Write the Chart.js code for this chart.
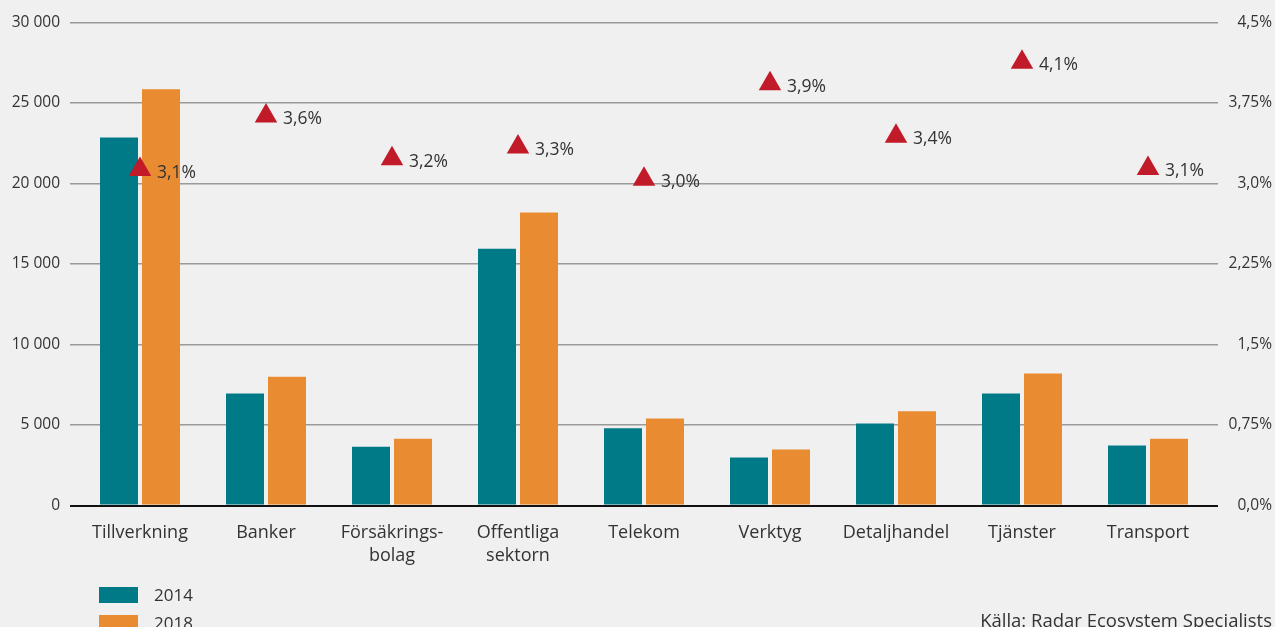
<!DOCTYPE html>
<html>
<head>
<meta charset="utf-8">
<script src="https://cdn.jsdelivr.net/npm/chart.js@4/dist/chart.umd.min.js"></script>
<style>
  html, body { margin: 0; padding: 0; background: #f0f0f0; overflow: hidden; }
  #wrap { position: relative; width: 1275px; height: 640px; }
  canvas { display: block; }
  .leg { position: absolute; left: 99px; font: 17px "Open Sans", sans-serif; color: #333; display: flex; align-items: center; }
  .leg span.box { display: inline-block; width: 39px; height: 16px; margin-right: 16px; }
  #src { position: absolute; right: 3px; top: 607px; font: 18.5px "Open Sans", sans-serif; color: #333; }
</style>
</head>
<body>
<div id="wrap">
  <canvas id="c" width="1275" height="640"></canvas>
  <div id="legend"></div>
  <div id="src">Källa: Radar Ecosystem Specialists</div>
</div>
<script>
const categories = [['Tillverkning'], ['Banker'], ['Försäkrings-', 'bolag'], ['Offentliga', 'sektorn'], ['Telekom'], ['Verktyg'], ['Detaljhandel'], ['Tjänster'], ['Transport']];
const seriesNames = ['2014', '2018'];
const values2014 = [22850, 6950, 3650, 15950, 4800, 2980, 5100, 6950, 3730];
const values2018 = [25850, 8000, 4150, 18200, 5400, 3480, 5850, 8200, 4150];
const growth = [3.13, 3.63, 3.23, 3.34, 3.04, 3.93, 3.44, 4.13, 3.14];
const growthLabels = ['3,1%', '3,6%', '3,2%', '3,3%', '3,0%', '3,9%', '3,4%', '4,1%', '3,1%'];
const leftTicks = [0, 5000, 10000, 15000, 20000, 25000, 30000];
const leftTickLabels = ['0', '5 000', '10 000', '15 000', '20 000', '25 000', '30 000'];
const rightTicks = [0, 0.75, 1.5, 2.25, 3.0, 3.75, 4.5];
const rightTickLabels = ['0,0%', '0,75%', '1,5%', '2,25%', '3,0%', '3,75%', '4,5%'];
const colors = ['#017a88', '#e98b30'];
const markerColor = '#c11a29';

const FONT = '"Open Sans", sans-serif';
const TEXT = '#333333';

// legend
const legendEl = document.getElementById('legend');
seriesNames.forEach((n, i) => {
  const d = document.createElement('div');
  d.className = 'leg';
  d.style.top = (583 + i * 28) + 'px';
  d.innerHTML = '<span class="box" style="background:' + colors[i] + '"></span>' + n;
  legendEl.appendChild(d);
});

const pointLabels = {
  id: 'pointLabels',
  afterDatasetsDraw(chart) {
    const meta = chart.getDatasetMeta(0);
    const ctx = chart.ctx;
    ctx.save();
    ctx.font = '17.5px ' + FONT;
    ctx.fillStyle = TEXT;
    ctx.textAlign = 'left';
    ctx.textBaseline = 'middle';
    meta.data.forEach((p, i) => {
      ctx.fillText(growthLabels[i], p.x + 17, p.y + 3);
    });
    ctx.restore();
  }
};

const xy = (arr) => arr.map((v, i) => ({ x: i, y: v }));

new Chart(document.getElementById('c'), {
  data: {
    datasets: [
      {
        type: 'line',
        label: 'Tillväxt',
        data: xy(growth),
        yAxisID: 'y1',
        showLine: false,
        pointStyle: 'triangle',
        pointRadius: 13,
        pointHoverRadius: 13,
        pointBackgroundColor: markerColor,
        pointBorderWidth: 0,
        borderWidth: 0,
        order: 0
      },
      {
        type: 'bar',
        label: seriesNames[0],
        data: xy(values2014),
        backgroundColor: colors[0],
        yAxisID: 'y',
        categoryPercentage: 84 / 126,
        barPercentage: 38 / 42,
        order: 1
      },
      {
        type: 'bar',
        label: seriesNames[1],
        data: xy(values2018),
        backgroundColor: colors[1],
        yAxisID: 'y',
        categoryPercentage: 84 / 126,
        barPercentage: 38 / 42,
        order: 1
      }
    ]
  },
  options: {
    responsive: false,
    animation: false,
    events: [],
    layout: { padding: { top: 22.5, right: 3, left: 0, bottom: 0 } },
    plugins: { legend: { display: false }, tooltip: { enabled: false } },
    scales: {
      x: {
        type: 'linear',
        offset: false,
        min: -70 / 126,
        max: 8 + 70 / 126,
        grid: { display: false, offset: false },
        border: { display: false },
        afterBuildTicks(scale) { scale.ticks = categories.map((c, i) => ({ value: i })); },
        afterFit(scale) { scale.height = 640 - 505.5; },
        ticks: {
          autoSkip: false,
          maxRotation: 0,
          minRotation: 0,
          padding: 8,
          color: TEXT,
          font: { family: FONT, size: 18, lineHeight: 1.28 },
          callback: (v) => categories[v]
        }
      },
      y: {
        position: 'left',
        min: 0,
        max: 30000,
        afterBuildTicks(scale) { scale.ticks = leftTicks.map(v => ({ value: v })); },
        afterFit(scale) { scale.width = 70; },
        border: { display: false },
        grid: {
          drawTicks: false,
          color: (c) => c.tick && c.tick.value === 0 ? '#111111' : '#9a9a9a',
          lineWidth: (c) => c.tick && c.tick.value === 0 ? 2 : 1.5
        },
        ticks: {
          padding: 10,
          color: TEXT,
          font: { family: FONT, size: 15.5 },
          callback: (v) => leftTickLabels[leftTicks.indexOf(v)]
        }
      },
      y1: {
        position: 'right',
        min: 0,
        max: 4.5,
        afterBuildTicks(scale) { scale.ticks = rightTicks.map(v => ({ value: v })); },
        afterFit(scale) { scale.width = 54; },
        border: { display: false },
        grid: { display: false, drawTicks: false },
        ticks: {
          crossAlign: 'far',
          padding: 0,
          color: TEXT,
          font: { family: FONT, size: 15.5 },
          callback: (v) => rightTickLabels[rightTicks.indexOf(v)]
        }
      }
    }
  },
  plugins: [pointLabels]
});
</script>
</body>
</html>
